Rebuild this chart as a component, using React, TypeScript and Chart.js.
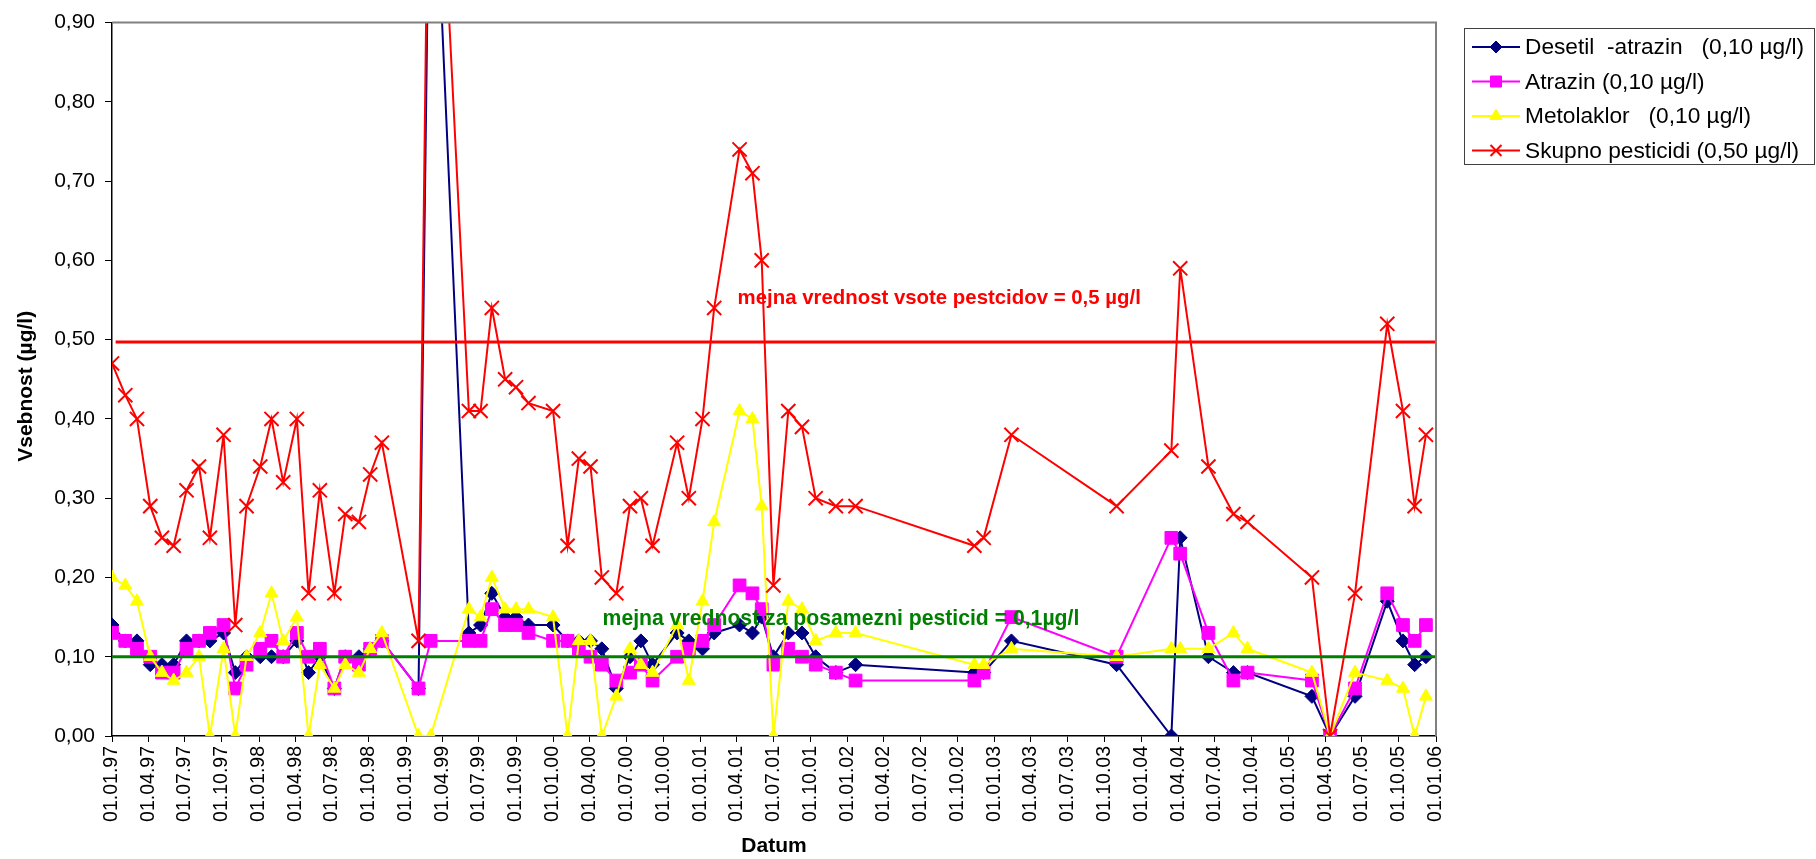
import React, { useEffect, useRef } from 'react';
import { Chart, registerables } from 'chart.js';

Chart.register(...registerables);

// ---- data ----
const sampleDates = [
  '1997-01-01', '1997-02-03', '1997-03-04', '1997-04-06', '1997-05-05', '1997-06-03', '1997-07-05', '1997-08-05',
  '1997-09-01', '1997-10-05', '1997-11-03', '1997-12-01', '1998-01-04', '1998-02-01', '1998-03-02', '1998-04-05',
  '1998-05-04', '1998-06-01', '1998-07-07', '1998-08-03', '1998-09-06', '1998-10-04', '1998-11-02', '1999-02-01',
  '1999-03-03', '1999-06-06', '1999-07-05', '1999-08-02', '1999-09-04', '1999-10-01', '1999-11-01', '2000-01-01',
  '2000-02-06', '2000-03-05', '2000-04-03', '2000-05-01', '2000-06-06', '2000-07-10', '2000-08-06', '2000-09-04',
  '2000-11-04', '2000-12-03', '2001-01-06', '2001-02-04', '2001-04-08', '2001-05-10', '2001-06-02', '2001-07-01',
  '2001-08-07', '2001-09-10', '2001-10-14', '2001-12-03', '2002-01-21', '2002-11-12', '2002-12-05', '2003-02-12',
  '2003-10-31', '2004-03-15', '2004-04-06', '2004-06-15', '2004-08-16', '2004-09-20', '2005-02-27', '2005-04-13',
  '2005-06-14', '2005-09-02', '2005-10-11', '2005-11-09', '2005-12-07',
];

const desetilAtrazin = [
  0.14, 0.12, 0.12, 0.09, 0.09, 0.09, 0.12, 0.12, 0.12, 0.13, 0.08, 0.10, 0.10, 0.10, 0.10, 0.12,
  0.08, 0.10, 0.06, 0.10, 0.10, 0.11, 0.12, 0.06, 1.23, 0.13, 0.14, 0.18, 0.15, 0.15, 0.14, 0.14,
  0.12, 0.12, 0.12, 0.11, 0.06, 0.10, 0.12, 0.09, 0.13, 0.12, 0.11, 0.13, 0.14, 0.13, 0.15, 0.10,
  0.13, 0.13, 0.10, 0.08, 0.09, 0.08, 0.08, 0.12, 0.09, 0.00, 0.25, 0.10, 0.08, 0.08, 0.05, 0.00,
  0.05, 0.17, 0.12, 0.09, 0.10,
];

const atrazin = [
  0.13, 0.12, 0.11, 0.10, 0.08, 0.08, 0.11, 0.12, 0.13, 0.14, 0.06, 0.09, 0.11, 0.12, 0.10, 0.13,
  0.10, 0.11, 0.06, 0.10, 0.09, 0.11, 0.12, 0.06, 0.12, 0.12, 0.12, 0.16, 0.14, 0.14, 0.13, 0.12,
  0.12, 0.11, 0.10, 0.09, 0.07, 0.08, 0.09, 0.07, 0.10, 0.11, 0.12, 0.14, 0.19, 0.18, 0.16, 0.09,
  0.11, 0.10, 0.09, 0.08, 0.07, 0.07, 0.08, 0.15, 0.10, 0.25, 0.23, 0.13, 0.07, 0.08, 0.07, 0.00,
  0.06, 0.18, 0.14, 0.12, 0.14,
];

const metolaklor = [
  0.20, 0.19, 0.17, 0.10, 0.08, 0.07, 0.08, 0.10, 0.00, 0.11, 0.00, 0.10, 0.13, 0.18, 0.12, 0.15,
  0.00, 0.09, 0.06, 0.09, 0.08, 0.11, 0.13, 0.00, 0.00, 0.16, 0.15, 0.20, 0.16, 0.16, 0.16, 0.15,
  0.00, 0.12, 0.12, 0.00, 0.05, 0.11, 0.09, 0.08, 0.14, 0.07, 0.17, 0.27, 0.41, 0.40, 0.29, 0.00,
  0.17, 0.16, 0.12, 0.13, 0.13, 0.09, 0.09, 0.11, 0.10, 0.11, 0.11, 0.11, 0.13, 0.11, 0.08, 0.00,
  0.08, 0.07, 0.06, 0.00, 0.05,
];

const skupnoPesticidi = [
  0.47, 0.43, 0.40, 0.29, 0.25, 0.24, 0.31, 0.34, 0.25, 0.38, 0.14, 0.29, 0.34, 0.40, 0.32, 0.40,
  0.18, 0.31, 0.18, 0.28, 0.27, 0.33, 0.37, 0.12, 1.37, 0.41, 0.41, 0.54, 0.45, 0.44, 0.42, 0.41,
  0.24, 0.35, 0.34, 0.20, 0.18, 0.29, 0.30, 0.24, 0.37, 0.30, 0.40, 0.54, 0.74, 0.71, 0.60, 0.19,
  0.41, 0.39, 0.30, 0.29, 0.29, 0.24, 0.25, 0.38, 0.29, 0.36, 0.59, 0.34, 0.28, 0.27, 0.20, 0.00,
  0.18, 0.52, 0.41, 0.29, 0.38,
];

const seriesLabels = [
  'Desetil  -atrazin   (0,10 µg/l)',
  'Atrazin (0,10 µg/l)',
  'Metolaklor   (0,10 µg/l)',
  'Skupno pesticidi (0,50 µg/l)',
];

const axisStart = '1997-01-01';
const axisEnd = '2006-01-01';
const yMin = 0;
const yMax = 0.9;
const yStep = 0.1;

const sumLimitValue = 0.497;
const sumLimitRange = ['1997-01-10', '2006-01-01'];
const singleLimitValue = 0.1;
const singleLimitRange = ['1997-01-01', '2006-01-01'];

const sumLimitText = 'mejna vrednost vsote pestcidov = 0,5 µg/l';
const sumLimitTextAt = { date: '2001-04-03', value: 0.552 };
const singleLimitText = 'mejna vrednost za posamezni pesticid = 0,1µg/l';
const singleLimitTextAt = { date: '2000-05-03', value: 0.147 };

const xTitle = 'Datum';
const yTitle = 'Vsebnost (µg/l)';

// ---- helpers ----
const DAY = 86400000;
const parse = (s: string) => {
  const [y, m, d] = s.split('-').map(Number);
  return Date.UTC(y, m - 1, d);
};
const origin = parse(axisStart);
const toDays = (s: string) => Math.round((parse(s) - origin) / DAY);
const totalDays = toDays(axisEnd);

const quarterTicks: number[] = [];
for (let y = 1997; y <= 2006; y++) {
  for (let m = 0; m < 12; m += 3) {
    const v = Math.round((Date.UTC(y, m, 1) - origin) / DAY);
    if (v <= totalDays) quarterTicks.push(v);
  }
}

const fmtTick = (v: number) => {
  const d = new Date(origin + v * DAY);
  const dd = String(d.getUTCDate()).padStart(2, '0');
  const mm = String(d.getUTCMonth() + 1).padStart(2, '0');
  const yy = String(d.getUTCFullYear() % 100).padStart(2, '0');
  return `${dd}.${mm}.${yy}`;
};

const FONT = "'Liberation Sans', Arial, sans-serif";

const toPoints = (vals: number[]) => sampleDates.map((d, i) => ({ x: toDays(d), y: vals[i] }));

const colors = ['#000080', '#FF00FF', '#FFFF00', '#FF0000'];
const styles = ['rectRot', 'rect', 'triangle', 'crossRot'];

function drawMarker(ctx: CanvasRenderingContext2D, style: string, x: number, y: number, color: string) {
  ctx.save();
  ctx.fillStyle = color;
  ctx.strokeStyle = color;
  ctx.lineWidth = 1;
  ctx.beginPath();
  if (style === 'rectRot') {
    const r = 6;
    ctx.moveTo(x - r, y); ctx.lineTo(x, y - r); ctx.lineTo(x + r, y); ctx.lineTo(x, y + r);
    ctx.closePath(); ctx.fill(); ctx.stroke();
  } else if (style === 'rect') {
    const h = 5.5;
    ctx.rect(x - h, y - h, 2 * h, 2 * h); ctx.fill(); ctx.stroke();
  } else if (style === 'triangle') {
    const r = 7;
    ctx.moveTo(x, y - r); ctx.lineTo(x + r * 0.866, y + r / 2); ctx.lineTo(x - r * 0.866, y + r / 2);
    ctx.closePath(); ctx.fill(); ctx.stroke();
  } else {
    const h = 5.5;
    ctx.lineWidth = 2;
    ctx.moveTo(x - h, y - h); ctx.lineTo(x + h, y + h);
    ctx.moveTo(x - h, y + h); ctx.lineTo(x + h, y - h);
    ctx.stroke();
  }
  ctx.restore();
}

const decorPlugin = {
  id: 'decor',
  afterDatasetsDraw(chart: any) {
    const { ctx, chartArea, scales } = chart;
    ctx.save();
    // plot area border (top/right), gray
    ctx.strokeStyle = '#808080';
    ctx.lineWidth = 2;
    ctx.beginPath();
    ctx.moveTo(chartArea.left, chartArea.top);
    ctx.lineTo(chartArea.right, chartArea.top);
    ctx.lineTo(chartArea.right, chartArea.bottom);
    ctx.stroke();
    // annotations
    ctx.textBaseline = 'middle';
    ctx.textAlign = 'left';
    ctx.font = `bold 20.4px ${FONT}`;
    ctx.fillStyle = '#FF0000';
    ctx.fillText(sumLimitText, scales.x.getPixelForValue(toDays(sumLimitTextAt.date)), scales.y.getPixelForValue(sumLimitTextAt.value));
    ctx.font = `bold 21.2px ${FONT}`;
    ctx.fillStyle = '#008000';
    ctx.fillText(singleLimitText, scales.x.getPixelForValue(toDays(singleLimitTextAt.date)), scales.y.getPixelForValue(singleLimitTextAt.value));
    ctx.restore();
  },
  afterDraw(chart: any) {
    const { ctx, chartArea } = chart;
    ctx.save();
    // y axis title
    ctx.font = `bold 21px ${FONT}`;
    ctx.fillStyle = '#000';
    ctx.textAlign = 'center';
    ctx.textBaseline = 'middle';
    ctx.translate(26, (chartArea.top + chartArea.bottom) / 2 + 7);
    ctx.rotate(-Math.PI / 2);
    ctx.fillText(yTitle, 0, 0);
    ctx.restore();

    ctx.save();
    const bx = 1464.5, by = 28.5, bw = 350, bh = 136;
    ctx.strokeStyle = '#404040';
    ctx.lineWidth = 1;
    ctx.strokeRect(bx, by, bw, bh);
    ctx.font = `22.7px ${FONT}`;
    ctx.textBaseline = 'middle';
    ctx.textAlign = 'left';
    seriesLabels.forEach((label, i) => {
      const y = 47 + i * 34.5;
      ctx.strokeStyle = colors[i];
      ctx.lineWidth = 2;
      ctx.beginPath();
      ctx.moveTo(1472, y);
      ctx.lineTo(1520, y);
      ctx.stroke();
      drawMarker(ctx, styles[i], 1496, y, colors[i]);
      ctx.fillStyle = '#000';
      ctx.fillText(label, 1525, y + 1);
    });
    ctx.restore();
  },
};

export default function App() {
  const ref = useRef<HTMLCanvasElement>(null);

  useEffect(() => {
    if (!ref.current) return;
    const mk = (i: number, vals: number[], radius: number, order: number) => ({
      label: seriesLabels[i],
      data: toPoints(vals),
      borderColor: colors[i],
      backgroundColor: colors[i],
      borderWidth: 2,
      pointStyle: styles[i],
      pointRadius: radius,
      pointBorderWidth: i === 3 ? 2 : 1,
      pointBorderColor: colors[i],
      pointBackgroundColor: colors[i],
      tension: 0,
      order,
    });
    const chart = new Chart(ref.current, {
      type: 'line',
      data: {
        datasets: [
          mk(0, desetilAtrazin, 7, 5),
          mk(1, atrazin, 9, 4),
          mk(2, metolaklor, 7.5, 3),
          mk(3, skupnoPesticidi, 10, 2),
          {
            label: 'sumLimit',
            data: sumLimitRange.map((d) => ({ x: toDays(d), y: sumLimitValue })),
            borderColor: '#FF0000',
            borderWidth: 3,
            pointRadius: 0,
            order: 1,
          },
          {
            label: 'singleLimit',
            data: singleLimitRange.map((d) => ({ x: toDays(d), y: singleLimitValue })),
            borderColor: '#008000',
            borderWidth: 3,
            pointRadius: 0,
            order: 0,
          },
        ] as any,
      },
      options: {
        animation: false,
        responsive: false,
        devicePixelRatio: 1,
        layout: { padding: { top: 20, right: 380, bottom: 0, left: 0 } },
        plugins: { legend: { display: false }, tooltip: { enabled: false } },
        scales: {
          x: {
            type: 'linear',
            min: 0,
            max: totalDays,
            afterBuildTicks: (scale: any) => {
              scale.ticks = quarterTicks.map((v) => ({ value: v }));
            },
            afterFit: (scale: any) => {
              scale.height = 123;
            },
            ticks: {
              autoSkip: false,
              minRotation: 90,
              maxRotation: 90,
              padding: 4,
              color: '#000',
              font: { family: FONT, size: 19.5 },
              callback: (v: any) => fmtTick(Number(v)),
            },
            grid: { drawOnChartArea: false, drawTicks: true, tickLength: 6, color: '#000' },
            border: { color: '#000', width: 1.5 },
            title: {
              display: true,
              text: xTitle,
              color: '#000',
              font: { family: FONT, size: 21, weight: 'bold' },
              padding: { top: 0, bottom: 0 },
            },
          },
          y: {
            min: yMin,
            max: yMax,
            afterFit: (scale: any) => {
              scale.width = 112;
            },
            ticks: {
              stepSize: yStep,
              padding: 10,
              color: '#000',
              font: { family: FONT, size: 21 },
              callback: (v: any) => Number(v).toFixed(2).replace('.', ','),
            },
            grid: { drawOnChartArea: false, drawTicks: true, tickLength: 7, color: '#000' },
            border: { color: '#000', width: 1.5 },
            title: { display: false },
          },
        },
      } as any,
      plugins: [decorPlugin],
    });
    return () => chart.destroy();
  }, []);

  return (
    <div style={{ position: 'absolute', left: 0, top: 0, width: 1816, height: 859, background: '#fff' }}>
      <canvas ref={ref} width={1816} height={859} style={{ display: 'block', width: 1816, height: 859 }} />
    </div>
  );
}
